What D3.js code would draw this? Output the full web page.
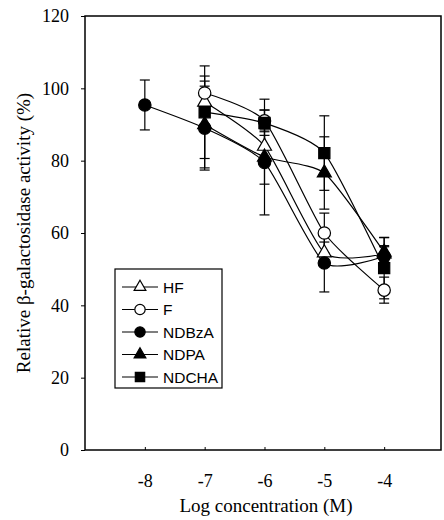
<!DOCTYPE html>
<html>
<head>
<meta charset="utf-8">
<script src="https://cdn.jsdelivr.net/npm/d3@7"></script>
<style>
  body { margin: 0; background: #fff; }
  svg { display: block; }
  .tick text { font-family: "Liberation Serif", "Times New Roman", serif; }
</style>
</head>
<body>
<svg width="444" height="520"></svg>
<script>
// log concentration (M)
var concs = [-8, -7, -6, -5, -4];
var xTicks = [-8, -7, -6, -5, -4];
var yTicks = [0, 20, 40, 60, 80, 100, 120];

// relative activity (%), null = not measured
var hfVals     = [null, 96.2, 84.0, 54.5, 54.2];
var fVals      = [null, 98.7, 91.0, 60.0, 44.2];
var ndbzaVals  = [95.4, 89.0, 79.5, 51.7, 53.5];
var ndpaVals   = [null, 90.0, 81.0, 76.6, 54.7];
var ndchaVals  = [null, 93.4, 90.4, 82.1, 50.3];

// error bar half-widths (%)
var hfErr    = [null, 3.0, 3.0, 3.0, 2.0];
var fErr     = [null, 4.7, 3.0, 5.5, 3.6];
var ndbzaErr = [6.9, 11.6, 14.5, 8.0, 3.0];
var ndpaErr  = [null, 12.0, 7.5, 10.0, 4.0];
var ndchaErr = [null, 12.8, 6.6, 10.3, 8.5];

var seriesNames = ["HF", "F", "NDBzA", "NDPA", "NDCHA"];

var svg = d3.select("svg");

var x = d3.scaleLinear().domain([-9, -3.05]).range([85, 441]);
var y = d3.scaleLinear().domain([0, 120]).range([450, 16]);

// build series table
var series = [
  {name: "HF",    vals: hfVals,    err: hfErr,    shape: d3.symbolTriangle, fill: "#fff", size: 85},
  {name: "F",     vals: fVals,     err: fErr,     shape: d3.symbolCircle,   fill: "#fff", size: 120},
  {name: "NDBzA", vals: ndbzaVals, err: ndbzaErr, shape: d3.symbolCircle,   fill: "#000", size: 120},
  {name: "NDPA",  vals: ndpaVals,  err: ndpaErr,  shape: d3.symbolTriangle, fill: "#000", size: 85},
  {name: "NDCHA", vals: ndchaVals, err: ndchaErr, shape: d3.symbolSquare,   fill: "#000", size: 125}
];
series.forEach(function(s) {
  s.points = concs.map(function(c, i) { return {x: c, v: s.vals[i], e: s.err[i]}; })
                  .filter(function(p) { return p.v != null; });
});

// frame
svg.append("rect")
   .attr("x", x(-9)).attr("y", y(120))
   .attr("width", x(-3.05) - x(-9)).attr("height", y(0) - y(120))
   .attr("fill", "none").attr("stroke", "#000").attr("stroke-width", 1.5);

// axes
var yAxis = svg.append("g")
   .attr("transform", "translate(" + x(-9) + ",0)")
   .call(d3.axisLeft(y).tickValues(yTicks).tickSize(4).tickPadding(12));
yAxis.select(".domain").remove();
yAxis.selectAll("text").style("font-size", "18px");

var xAxis = svg.append("g")
   .attr("transform", "translate(0," + y(0) + ")")
   .call(d3.axisBottom(x).tickValues(xTicks).tickSize(-3).tickPadding(24)
           .tickFormat(function(d) { return String(d); }));
xAxis.select(".domain").remove();
xAxis.selectAll("text").style("font-size", "18px");

// axis titles
svg.append("text")
   .attr("x", 266).attr("y", 512)
   .attr("text-anchor", "middle")
   .style("font-family", "'Liberation Serif', 'Times New Roman', serif")
   .style("font-size", "19px")
   .text("Log concentration (M)");

svg.append("text")
   .attr("transform", "translate(30,233) rotate(-90)")
   .attr("text-anchor", "middle")
   .style("font-family", "'Liberation Serif', 'Times New Roman', serif")
   .style("font-size", "19px")
   .text("Relative β-galactosidase activity (%)");

// smoothed lines
var line = d3.line()
   .x(function(d) { return x(d.x); })
   .y(function(d) { return y(d.v); })
   .curve(d3.curveCardinal.tension(0.4));

svg.append("g").selectAll("path")
   .data(series)
   .enter().append("path")
   .attr("d", function(s) { return line(s.points); })
   .attr("fill", "none").attr("stroke", "#000").attr("stroke-width", 1.2);

// error bars
var eb = svg.append("g").attr("stroke", "#000").attr("stroke-width", 1.2);
series.forEach(function(s) {
  s.points.forEach(function(p) {
    var cx = x(p.x);
    eb.append("line").attr("x1", cx).attr("x2", cx).attr("y1", y(p.v - p.e)).attr("y2", y(p.v + p.e));
    [p.v - p.e, p.v + p.e].forEach(function(v) {
      eb.append("line").attr("x1", cx - 5).attr("x2", cx + 5).attr("y1", y(v)).attr("y2", y(v));
    });
  });
});

// markers
series.forEach(function(s) {
  svg.append("g").selectAll("path")
     .data(s.points)
     .enter().append("path")
     .attr("transform", function(d) { return "translate(" + x(d.x) + "," + y(d.v) + ")"; })
     .attr("d", d3.symbol().type(s.shape).size(s.size))
     .attr("fill", s.fill).attr("stroke", "#000").attr("stroke-width", 1.2);
});

// legend
var legend = svg.append("g");
legend.append("rect")
   .attr("x", 115).attr("y", 269).attr("width", 107).attr("height", 119)
   .attr("fill", "#fff").attr("stroke", "#000").attr("stroke-width", 1.2);

var rows = legend.selectAll("g.row")
   .data(series)
   .enter().append("g")
   .attr("class", "row")
   .attr("transform", function(d, i) { return "translate(0," + (287 + i * 22.5) + ")"; });

rows.append("line")
   .attr("x1", 122).attr("x2", 158).attr("y1", 0).attr("y2", 0)
   .attr("stroke", "#000").attr("stroke-width", 1.2);
rows.append("path")
   .attr("transform", "translate(140,0)")
   .attr("d", function(s) { return d3.symbol().type(s.shape).size(s.size * 0.7)(); })
   .attr("fill", function(s) { return s.fill; })
   .attr("stroke", "#000").attr("stroke-width", 1.2);
rows.append("text")
   .attr("x", 163).attr("y", 5.5)
   .style("font-family", "'Liberation Sans', Arial, sans-serif")
   .style("font-size", "15.5px")
   .text(function(s) { return s.name; });
</script>
</body>
</html>
